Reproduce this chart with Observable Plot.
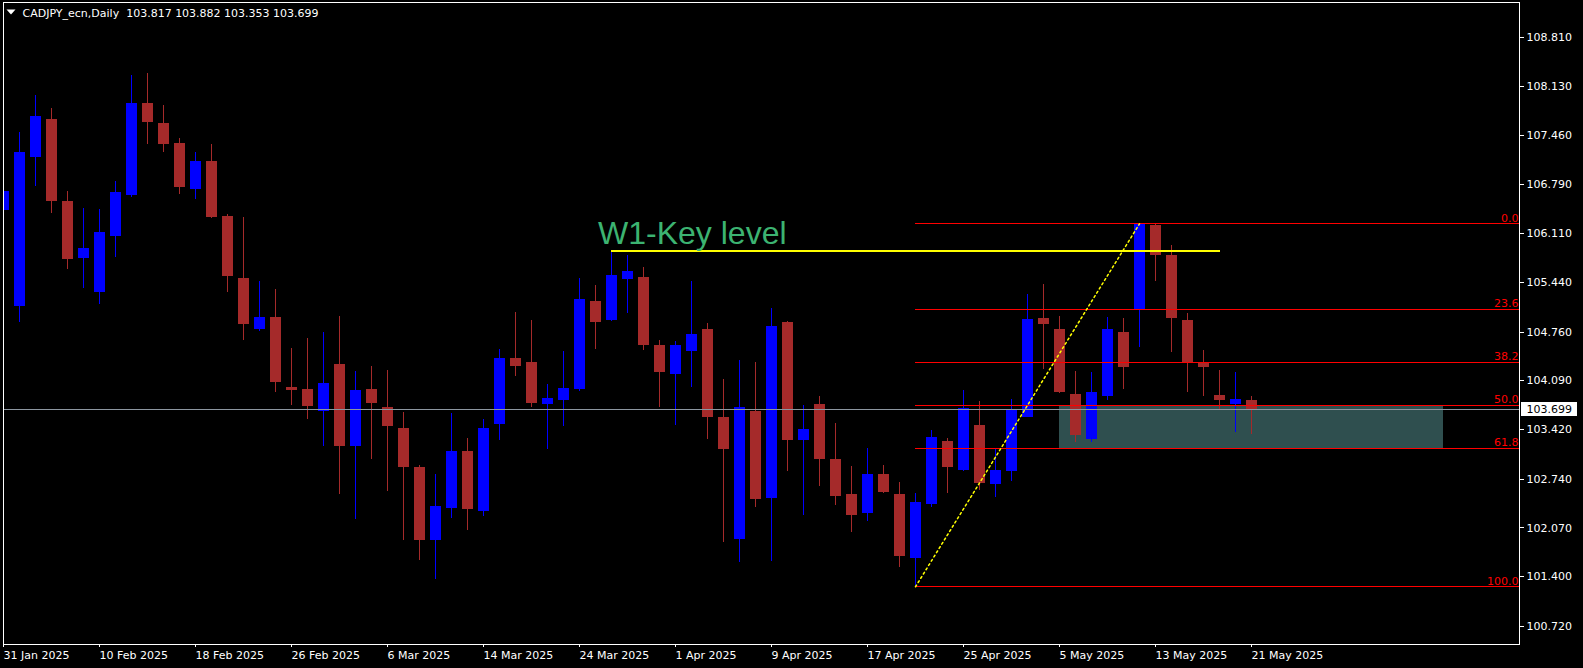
<!DOCTYPE html>
<html><head><meta charset="utf-8">
<script src="https://cdn.jsdelivr.net/npm/d3@7"></script>
<script src="https://cdn.jsdelivr.net/npm/@observablehq/plot@0.6"></script>
<style>html,body{margin:0;padding:0;background:#000;overflow:hidden}</style>
</head><body><div id="chart"></div>
<script>
// ---- data ----
const dates = ["2025-01-31",
 "2025-02-03","2025-02-04","2025-02-05","2025-02-06","2025-02-07","2025-02-10","2025-02-11","2025-02-12","2025-02-13","2025-02-14",
 "2025-02-17","2025-02-18","2025-02-19","2025-02-20","2025-02-21","2025-02-24","2025-02-25","2025-02-26","2025-02-27","2025-02-28",
 "2025-03-03","2025-03-04","2025-03-05","2025-03-06","2025-03-07","2025-03-10","2025-03-11","2025-03-12","2025-03-13","2025-03-14",
 "2025-03-17","2025-03-18","2025-03-19","2025-03-20","2025-03-21","2025-03-24","2025-03-25","2025-03-26","2025-03-27","2025-03-28","2025-03-31",
 "2025-04-01","2025-04-02","2025-04-03","2025-04-04","2025-04-07","2025-04-08","2025-04-09","2025-04-10","2025-04-11","2025-04-14",
 "2025-04-15","2025-04-16","2025-04-17","2025-04-18","2025-04-21","2025-04-22","2025-04-23","2025-04-24","2025-04-25","2025-04-28","2025-04-29","2025-04-30",
 "2025-05-01","2025-05-02","2025-05-05","2025-05-06","2025-05-07","2025-05-08","2025-05-09","2025-05-12","2025-05-13","2025-05-14","2025-05-15","2025-05-16",
 "2025-05-19","2025-05-20","2025-05-21"];
const open = [106.433,105.118,107.161,107.681,106.556,105.771,105.308,106.074,106.641,107.899,107.625,107.350,106.717,107.104,106.348,105.497,104.797,104.962,103.998,103.974,
 103.671,104.315,103.189,103.974,103.723,103.435,102.901,101.903,102.338,103.123,102.300,103.497,104.400,104.343,103.766,103.823,103.965,105.180,104.920,105.487,
 105.511,104.575,104.182,104.499,104.797,103.586,101.917,103.671,102.480,104.891,103.274,103.771,103.009,102.530,102.274,102.805,102.530,101.656,102.397,103.258,
 102.864,103.478,102.672,102.846,103.588,104.947,104.796,103.903,103.285,103.880,104.755,105.071,106.224,105.812,104.920,104.338,103.890,103.771,103.817];
const high = [107.710,107.502,108.012,107.833,106.693,106.457,106.442,106.830,108.282,108.310,107.871,107.421,107.227,107.336,106.376,106.334,105.454,105.345,104.537,104.674,
 104.754,104.977,104.220,104.286,104.234,103.657,102.929,102.806,103.643,103.298,103.563,104.527,105.029,104.920,104.040,104.494,105.497,105.402,105.866,105.814,
 105.648,104.646,104.631,105.454,104.877,104.111,104.371,104.343,105.085,104.910,103.757,103.880,103.511,102.915,103.162,102.928,102.695,102.544,103.409,103.299,
 103.958,103.807,103.144,103.835,105.281,105.414,104.974,104.219,104.205,104.961,104.947,106.247,106.240,105.949,105.016,104.508,104.233,104.205,103.882];
const low = [106.211,104.896,106.764,106.395,105.624,105.364,105.142,105.790,106.613,107.341,107.227,106.655,106.584,106.324,105.308,104.646,104.768,103.932,103.752,103.563,
 103.189,102.532,102.187,103.010,102.574,101.898,101.624,101.369,102.206,102.035,102.234,103.274,104.154,103.719,103.142,103.463,103.941,104.527,104.906,105.014,
 104.513,103.728,103.482,104.002,103.288,101.874,101.600,102.357,101.610,102.839,102.248,102.645,102.385,102.013,102.164,102.549,101.532,101.263,102.356,102.549,
 102.846,102.590,102.494,102.709,103.588,104.251,103.922,103.249,103.249,103.826,103.977,104.553,105.455,104.480,103.931,103.876,103.684,103.382,103.353];
const close = [106.693,107.227,107.719,106.547,105.762,105.908,106.130,106.679,107.899,107.644,107.341,106.750,107.104,106.338,105.525,104.863,104.962,104.069,103.960,103.738,
 104.054,103.189,103.960,103.780,103.463,102.901,101.898,102.366,103.123,102.324,103.435,104.400,104.291,103.785,103.851,103.988,105.208,104.896,105.539,105.591,
 104.570,104.211,104.575,104.726,103.591,103.142,103.723,102.466,104.839,103.274,103.426,103.009,102.508,102.246,102.805,102.558,101.683,102.420,103.313,102.906,
 103.711,102.681,102.860,103.688,104.933,104.865,103.935,103.340,103.931,104.796,104.279,106.247,105.812,104.952,104.338,104.274,103.821,103.835,103.699];
const yTicks = [108.810,108.130,107.460,106.790,106.110,105.440,104.760,104.090,103.420,102.740,102.070,101.400,100.720];
const dateTickEvery = 6;
const fibLevels = [0, 23.6, 38.2, 50, 61.8, 100];
const fibHigh = 106.247, fibLow = 101.263;
const fibStartBar = 57;
const trend = [{bar: 57, price: 101.263}, {bar: 71, price: 106.247}];
const keyLevel = [{bar: 38, price: 105.871}, {bar: 76, price: 105.871}];
const keyLabel = "W1-Key level";
const zone = {fromBar: 66, toBar: 90, top: 50, bottom: 61.8};
const bid = 103.699;
const symbol = "CADJPY_ecn,Daily";
const last = [103.817, 103.882, 103.353, 103.699];

// ---- chart ----
const BULL = "#0000ff", BEAR = "#a52a2a", FIB = "#ff0000";
const bars = dates.map((d, i) => ({i, date: d, o: open[i], h: high[i], l: low[i], c: close[i]}));
const col = d => d.c > d.o ? BULL : BEAR;
const fibPrice = lv => fibHigh - lv / 100 * (fibHigh - fibLow);
const xMax = 94.75;
const halfBody = 5.5 / 16;
const fmtDate = d => d3.utcFormat("%-d %b %Y")(d3.utcParse("%Y-%m-%d")(d));
const tickIdx = d3.range(0, dates.length, dateTickEvery);
const crisp = {shapeRendering: "crispEdges"};
const downTriangle = {draw(ctx) { ctx.moveTo(-4.5, -2.4); ctx.lineTo(4.5, -2.4); ctx.lineTo(0, 2.4); ctx.closePath(); }};

const chart = Plot.plot({
  width: 1583, height: 668,
  marginLeft: 3, marginRight: 64, marginTop: 2, marginBottom: 24,
  style: {background: "#000", color: "#fff", fontFamily: "DejaVu Sans", fontSize: "11px"},
  x: {type: "linear", domain: [0, xMax], label: null},
  y: {domain: [100.470, 109.286], label: null},
  color: {type: "identity"},
  marks: [
    Plot.rect([zone], {x1: d => d.fromBar, x2: d => d.toBar, y1: d => fibPrice(d.bottom), y2: d => fibPrice(d.top), fill: "#2f4f4f", ...crisp}),
    Plot.ruleX(bars, {x: "i", y1: "l", y2: "h", stroke: col, clip: true, ...crisp}),
    Plot.rect(bars, {x1: d => d.i - halfBody, x2: d => d.i + halfBody, y1: "o", y2: "c", fill: col, clip: true, ...crisp}),
    Plot.ruleY(fibLevels, {y: fibPrice, x1: () => fibStartBar, x2: () => xMax, stroke: FIB, ...crisp}),
    Plot.text(fibLevels, {x: () => xMax, y: fibPrice, text: lv => lv.toFixed(1), textAnchor: "end", lineAnchor: "bottom", dx: -1, dy: -2, fill: FIB}),
    Plot.ruleY([bid], {stroke: "#8c96a0", ...crisp}),
    Plot.line(trend, {x: "bar", y: "price", stroke: "yellow", strokeDasharray: "2,3"}),
    Plot.line(keyLevel, {x: "bar", y: "price", stroke: "yellow", strokeWidth: 2, ...crisp}),
    Plot.text([keyLabel], {x: () => 37.16, y: () => 105.963, text: d => d, textAnchor: "start", lineAnchor: "bottom",
      fontSize: 32, fontFamily: "Liberation Sans, Arial, sans-serif", fill: "#3cb371"}),
    Plot.frame({stroke: "#fff", ...crisp}),
    Plot.axisY({anchor: "right", ticks: yTicks, tickFormat: d3.format(".3f"), tickSize: 4, tickPadding: 3, label: null, ...crisp}),
    Plot.axisX({anchor: "bottom", ticks: tickIdx, tickFormat: i => fmtDate(dates[i]), textAnchor: "start", tickSize: 3, tickPadding: 4, label: null, ...crisp}),
    Plot.rect([bid], {x1: () => xMax + 2 / 16, x2: () => xMax + 58 / 16, y1: p => p - 0.092, y2: p => p + 0.1, fill: "#fff", clip: false, ...crisp}),
    Plot.text([bid], {x: () => xMax + 7 / 16, y: p => p, text: d3.format(".3f"), textAnchor: "start", fill: "#000"}),
    Plot.dot([0], {frameAnchor: "top-left", dx: 7.5, dy: 9.5, symbol: downTriangle, r: 4, fill: "#fff", stroke: null}),
    Plot.text([symbol + "  " + last.map(d3.format(".3f")).join(" ")], {frameAnchor: "top-left", dx: 19, dy: 14.7, lineAnchor: "bottom", textAnchor: "start", text: d => d, fill: "#fff"})
  ]
});
document.getElementById("chart").append(chart);
</script>
</body></html>
